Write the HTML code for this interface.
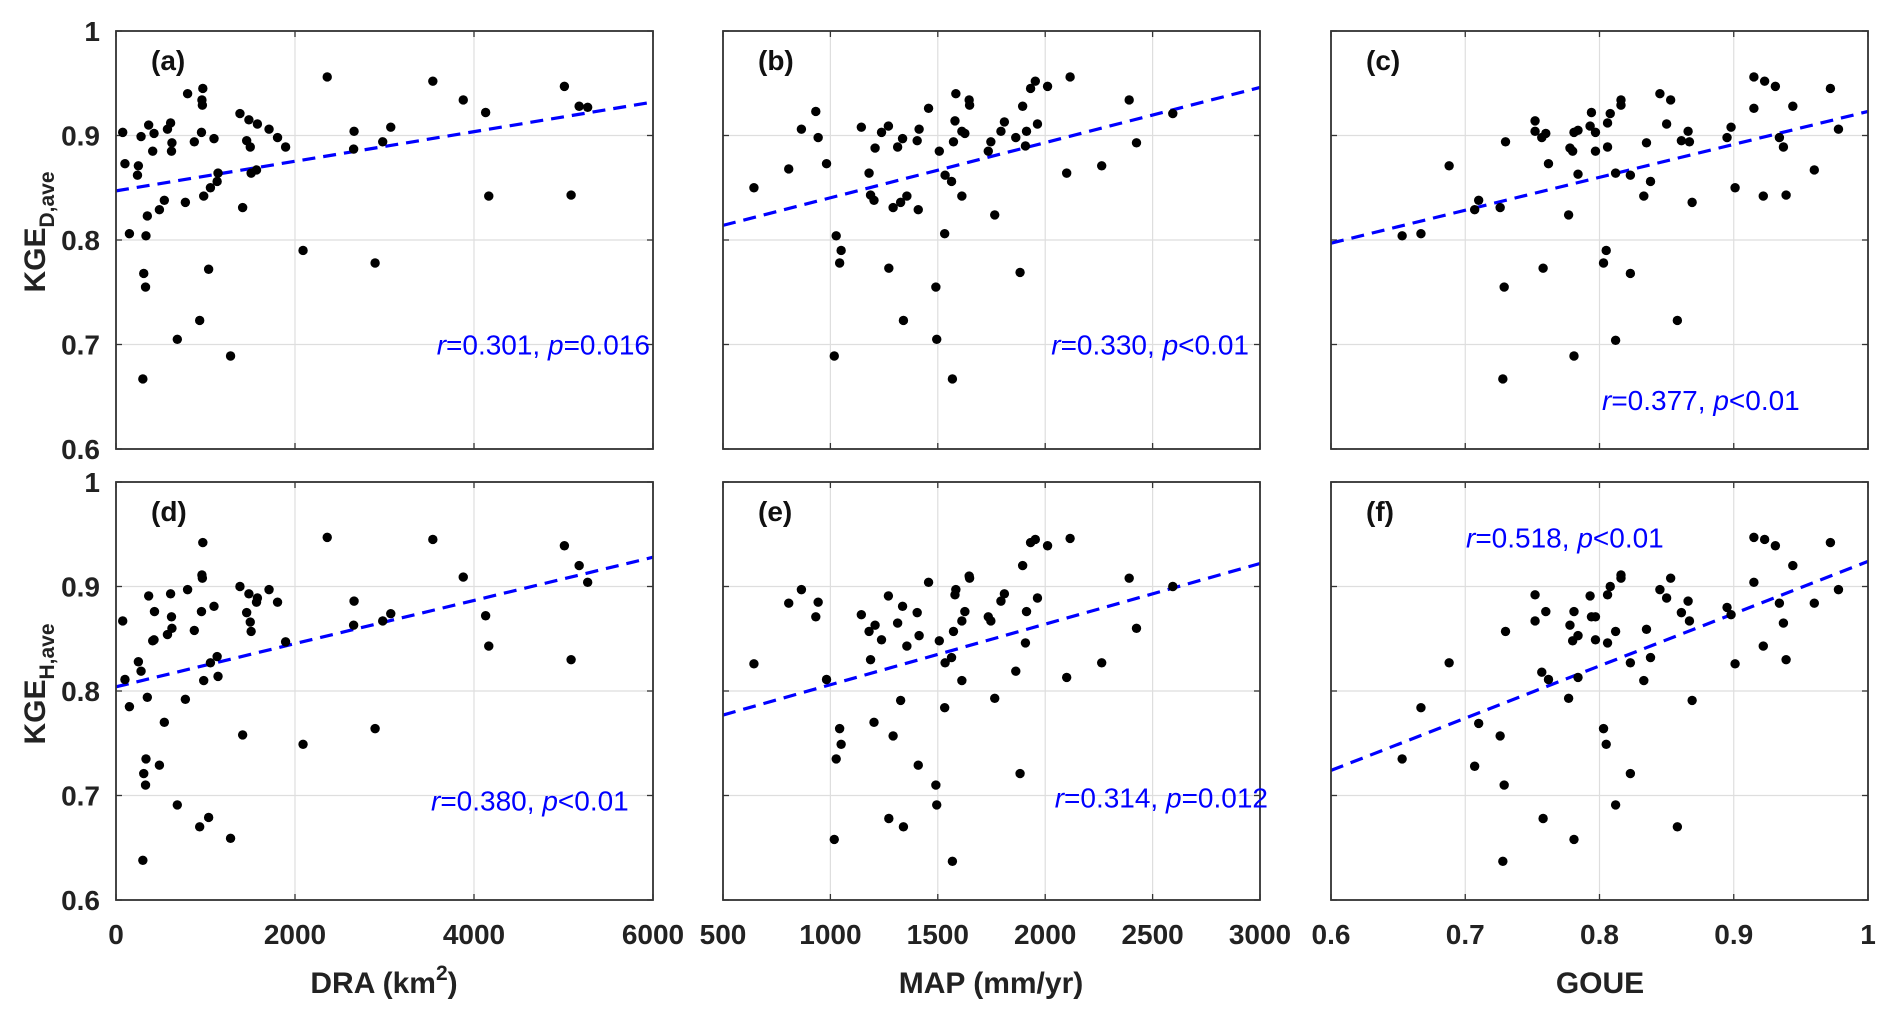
<!DOCTYPE html>
<html><head><meta charset="utf-8">
<style>
html,body{margin:0;padding:0;background:#fff;}
svg{display:block;}
text{font-family:"Liberation Sans",Arial,sans-serif;}
</style></head>
<body>
<svg id="fig" width="1892" height="1017" viewBox="0 0 1892 1017" xmlns="http://www.w3.org/2000/svg"></svg>
<script>
// ---- data ----
const draX = [75,100,150,240,250,280,300,310,330,335,350,365,410,425,485,540,575,610,620,625,685,775,800,875,935,955,960,965,970,980,1035,1055,1095,1130,1140,1280,1385,1415,1460,1485,1500,1510,1570,1580,1710,1805,1895,2090,2360,2655,2660,2895,2980,3070,3540,3880,4130,4165,5010,5085,5175,5270];
const kgeD_a = [0.903,0.873,0.806,0.862,0.871,0.899,0.667,0.768,0.755,0.804,0.823,0.910,0.885,0.902,0.829,0.838,0.906,0.912,0.885,0.893,0.705,0.836,0.940,0.894,0.723,0.903,0.934,0.929,0.945,0.842,0.772,0.850,0.897,0.856,0.864,0.689,0.921,0.831,0.895,0.915,0.889,0.864,0.867,0.911,0.906,0.898,0.889,0.790,0.956,0.887,0.904,0.778,0.894,0.908,0.952,0.934,0.922,0.842,0.947,0.843,0.928,0.927];
const draX_d = [75,100,150,250,280,300,310,330,335,350,365,430,425,410,485,540,575,610,620,625,685,775,800,875,935,955,960,965,970,980,1035,1055,1095,1130,1140,1280,1385,1415,1460,1485,1500,1510,1570,1580,1710,1805,1895,2090,2360,2660,2655,2895,2980,3070,3540,3880,4130,4165,5010,5085,5175,5270];
const kgeH_d = [0.867,0.811,0.785,0.828,0.819,0.638,0.721,0.710,0.735,0.794,0.891,0.876,0.849,0.848,0.729,0.770,0.854,0.893,0.871,0.860,0.691,0.792,0.897,0.858,0.670,0.876,0.911,0.908,0.942,0.810,0.679,0.827,0.881,0.833,0.814,0.659,0.900,0.758,0.875,0.893,0.866,0.857,0.885,0.889,0.897,0.885,0.847,0.749,0.947,0.886,0.863,0.764,0.867,0.874,0.945,0.909,0.872,0.843,0.939,0.830,0.920,0.904];

const mapX = [644,806,865,932,943,982,1027,1050,1043,1018,1144,1180,1187,1203,1208,1238,1270,1272,1292,1313,1327,1336,1340,1356,1404,1413,1409,1457,1491,1495,1507,1532,1534,1564,1568,1573,1580,1584,1612,1612,1626,1646,1648,1735,1747,1765,1794,1810,1863,1883,1895,1908,1913,1932,1954,1964,2011,2100,2116,2263,2391,2425,2594];
const kgeD_b = [0.850,0.868,0.906,0.923,0.898,0.873,0.804,0.790,0.778,0.689,0.908,0.864,0.843,0.838,0.888,0.903,0.909,0.773,0.831,0.889,0.836,0.897,0.723,0.842,0.895,0.906,0.829,0.926,0.755,0.705,0.885,0.806,0.862,0.856,0.667,0.894,0.914,0.940,0.842,0.904,0.902,0.934,0.929,0.885,0.894,0.824,0.904,0.913,0.898,0.769,0.928,0.890,0.904,0.945,0.952,0.911,0.947,0.864,0.956,0.871,0.934,0.893,0.921];
const kgeH_e = [0.826,0.884,0.897,0.871,0.885,0.811,0.735,0.749,0.764,0.658,0.873,0.857,0.830,0.770,0.863,0.849,0.891,0.678,0.757,0.865,0.791,0.881,0.670,0.843,0.875,0.853,0.729,0.904,0.710,0.691,0.848,0.784,0.827,0.832,0.637,0.857,0.892,0.897,0.810,0.867,0.876,0.910,0.908,0.871,0.867,0.793,0.886,0.893,0.819,0.721,0.920,0.846,0.876,0.942,0.945,0.889,0.939,0.813,0.946,0.827,0.908,0.860,0.900];

const goueX = [0.653,0.667,0.688,0.707,0.710,0.726,0.729,0.730,0.728,0.752,0.752,0.757,0.760,0.758,0.762,0.777,0.778,0.780,0.781,0.784,0.784,0.781,0.793,0.794,0.797,0.797,0.805,0.803,0.806,0.806,0.808,0.812,0.812,0.816,0.816,0.823,0.823,0.833,0.835,0.838,0.845,0.850,0.853,0.858,0.861,0.866,0.867,0.869,0.895,0.898,0.901,0.915,0.915,0.923,0.922,0.931,0.934,0.937,0.939,0.944,0.960,0.972,0.978];
const kgeD_c = [0.804,0.806,0.871,0.829,0.838,0.831,0.755,0.894,0.667,0.914,0.904,0.898,0.902,0.773,0.873,0.824,0.888,0.885,0.903,0.905,0.863,0.689,0.909,0.922,0.903,0.885,0.790,0.778,0.912,0.889,0.921,0.864,0.704,0.934,0.929,0.862,0.768,0.842,0.893,0.856,0.940,0.911,0.934,0.723,0.895,0.904,0.894,0.836,0.898,0.908,0.850,0.956,0.926,0.952,0.842,0.947,0.898,0.889,0.843,0.928,0.867,0.945,0.906];
const kgeH_f = [0.735,0.784,0.827,0.728,0.769,0.757,0.710,0.857,0.637,0.892,0.867,0.818,0.876,0.678,0.811,0.793,0.863,0.848,0.876,0.853,0.813,0.658,0.891,0.871,0.871,0.849,0.749,0.764,0.892,0.846,0.900,0.857,0.691,0.911,0.908,0.827,0.721,0.810,0.859,0.832,0.897,0.889,0.908,0.670,0.875,0.886,0.867,0.791,0.880,0.873,0.826,0.947,0.904,0.945,0.843,0.939,0.884,0.865,0.830,0.920,0.884,0.942,0.897];

// regression line endpoints (value at x-min, value at x-max)
const fitA = [0.847,0.932], fitB = [0.814,0.946], fitC = [0.797,0.923];
const fitD = [0.804,0.928], fitE = [0.777,0.922], fitF = [0.724,0.924];

const draTicks = [0,2000,4000,6000], mapTicks = [500,1000,1500,2000,2500,3000], goueTicks = [0.6,0.7,0.8,0.9,1];
const goueTickLabels = ['0.6','0.7','0.8','0.9','1'];
const yTicks = [0.6,0.7,0.8,0.9,1], yTickLabels = ['0.6','0.7','0.8','0.9','1'];

const NS = 'http://www.w3.org/2000/svg';
const svg = document.getElementById('fig');
function mk(tag, attrs, parent){ const e=document.createElementNS(NS,tag); for(const k in attrs) e.setAttribute(k,attrs[k]); (parent||svg).appendChild(e); return e; }

const cols = [116,723,1331], W = 537;
const rows = [31,482], H = 418;

const panels = [
 {id:'a',c:0,r:0,xs:draX,ys:kgeD_a,dom:[0,6000],ticks:draTicks,tl:draTicks.map(String),fit:fitA,ann:['0.301','=','0.016'],ax:650,ay:0.7,anchor:'end'},
 {id:'b',c:1,r:0,xs:mapX,ys:kgeD_b,dom:[500,3000],ticks:mapTicks,tl:mapTicks.map(String),fit:fitB,ann:['0.330','<','0.01'],ax:1249,ay:0.7,anchor:'end'},
 {id:'c',c:2,r:0,xs:goueX,ys:kgeD_c,dom:[0.6,1],ticks:goueTicks,tl:goueTickLabels,fit:fitC,ann:['0.377','<','0.01'],ax:1602,ay:0.647,anchor:'start'},
 {id:'d',c:0,r:1,xs:draX_d,ys:kgeH_d,dom:[0,6000],ticks:draTicks,tl:draTicks.map(String),fit:fitD,ann:['0.380','<','0.01'],ax:431,ay:0.695,anchor:'start'},
 {id:'e',c:1,r:1,xs:mapX,ys:kgeH_e,dom:[500,3000],ticks:mapTicks,tl:mapTicks.map(String),fit:fitE,ann:['0.314','=','0.012'],ax:1268,ay:0.698,anchor:'end'},
 {id:'f',c:2,r:1,xs:goueX,ys:kgeH_f,dom:[0.6,1],ticks:goueTicks,tl:goueTickLabels,fit:fitF,ann:['0.518','<','0.01'],ax:1466,ay:0.947,anchor:'start'}
];

panels.forEach(p=>{
  const x0=cols[p.c], y0=rows[p.r];
  const sx = v => x0 + (v-p.dom[0])/(p.dom[1]-p.dom[0])*W;
  const sy = v => y0 + H - (v-0.6)/0.4*H;
  const g = mk('g',{});
  
  
  mk('rect',{x:x0,y:y0,width:W,height:H,fill:'#fff'},g);
  p.ticks.forEach(t=>{ const X=sx(t);
    const gl=mk('line',{x1:X,x2:X,y1:y0,y2:y0+H,stroke:'#dedede','stroke-width':1.2},g);
     
    mk('line',{x1:X,x2:X,y1:y0+H,y2:y0+H-6,stroke:'#333','stroke-width':1.3},g);
    mk('line',{x1:X,x2:X,y1:y0,y2:y0+6,stroke:'#333','stroke-width':1.3},g);
  });
  yTicks.forEach(t=>{ const Y=sy(t);
    const gl=mk('line',{x1:x0,x2:x0+W,y1:Y,y2:Y,stroke:'#dedede','stroke-width':1.2},g);
     
    mk('line',{x1:x0,x2:x0+6,y1:Y,y2:Y,stroke:'#333','stroke-width':1.3},g);
    mk('line',{x1:x0+W,x2:x0+W-6,y1:Y,y2:Y,stroke:'#333','stroke-width':1.3},g);
  });
  const fl = mk('line',{x1:sx(p.dom[0]),y1:sy(p.fit[0]),x2:sx(p.dom[1]),y2:sy(p.fit[1]),stroke:'#0000ff','stroke-width':3.2,'stroke-dasharray':'13,8'},g);
  
  
  p.xs.forEach((xv,i)=>{
    const c = mk('circle',{cx:sx(xv),cy:sy(p.ys[i]),r:4.7,fill:'#000'},g);
    
    
  });
  const fr = mk('rect',{x:x0,y:y0,width:W,height:H,fill:'none',stroke:'#333','stroke-width':1.8},g);
  
  
  const lb = mk('text',{x:x0+35,y:y0+39,'font-size':28,'font-weight':'bold',fill:'#111'},g);
  lb.textContent='('+p.id+')';
  
  
  const an = mk('text',{x:p.ax,y:sy(p.ay)+10,'font-size':28,fill:'#0000ff','text-anchor':p.anchor},g);
  
  
  an.innerHTML='<tspan font-style="italic">r</tspan>='+p.ann[0]+', <tspan font-style="italic">p</tspan>'+(p.ann[1]==='<'?'&lt;':'=')+p.ann[2];
  if(p.c===0){
    yTicks.forEach((t,i)=>{
      const tx=mk('text',{x:100,y:sy(t)+10,'font-size':28,'font-weight':'bold','text-anchor':'end',fill:'#222'},g);
      tx.textContent=yTickLabels[i];
      
      
    });
  }
  if(p.r===1){
    p.ticks.forEach((t,i)=>{
      const tx=mk('text',{x:sx(t),y:944,'font-size':28,'font-weight':'bold','text-anchor':'middle',fill:'#222'},g);
      tx.textContent=p.tl[i];
      
      
    });
  }
});
</script>
<script>
(function(){
  const NS='http://www.w3.org/2000/svg', svg=document.getElementById('fig');
  function t(html,attrs,name){ const e=document.createElementNS(NS,'text'); for(const k in attrs) e.setAttribute(k,attrs[k]); e.innerHTML=html; svg.appendChild(e);
    
    
    return e; }
  t('KGE<tspan font-size="21" dy="9">D,ave</tspan>',{x:0,y:0,'font-size':30,'font-weight':'bold','text-anchor':'middle',fill:'#222',transform:'translate(45,232) rotate(-90)'},'y-axis-title-top');
  t('KGE<tspan font-size="21" dy="9">H,ave</tspan>',{x:0,y:0,'font-size':30,'font-weight':'bold','text-anchor':'middle',fill:'#222',transform:'translate(45,684) rotate(-90)'},'y-axis-title-bottom');
  t('DRA (km<tspan font-size="21" dy="-13">2</tspan><tspan dy="13">)</tspan>',{x:384,y:993,'font-size':30,'font-weight':'bold','text-anchor':'middle',fill:'#222'},'x-axis-title-dra');
  t('MAP (mm/yr)',{x:991,y:993,'font-size':30,'font-weight':'bold','text-anchor':'middle',fill:'#222'},'x-axis-title-map');
  t('GOUE',{x:1600,y:993,'font-size':30,'font-weight':'bold','text-anchor':'middle',fill:'#222'},'x-axis-title-goue');
})();
</script>
</body></html>
